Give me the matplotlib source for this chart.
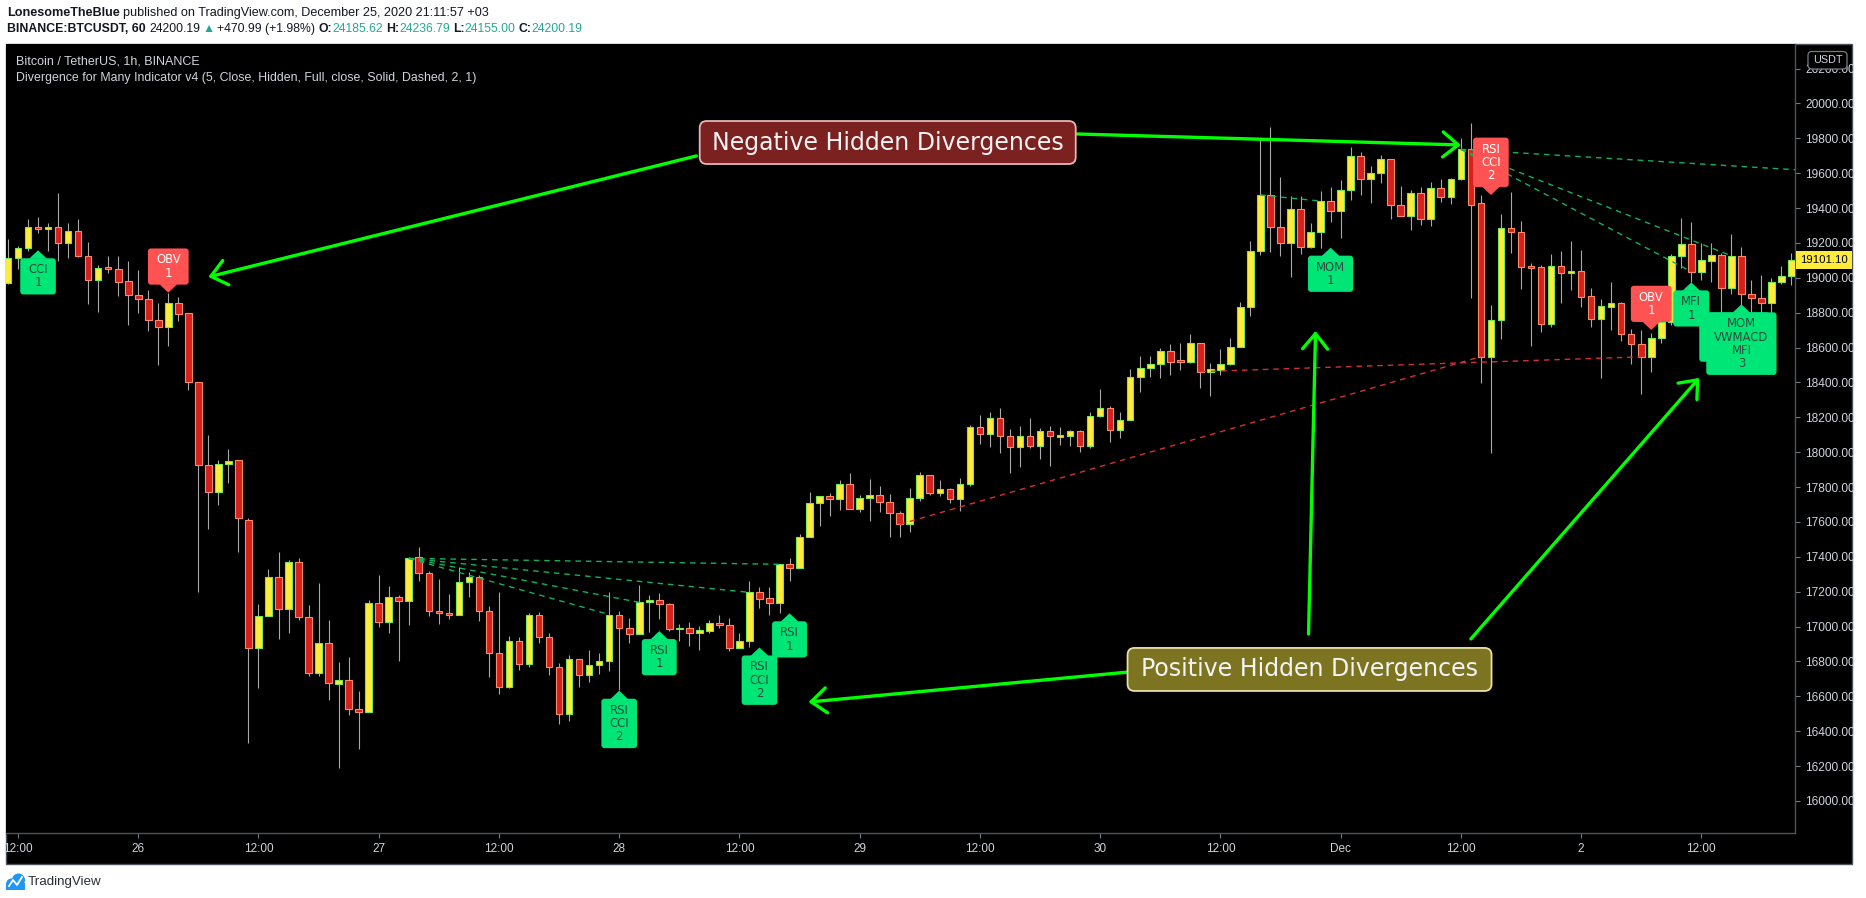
import numpy as np
import pandas as pd
import matplotlib
matplotlib.use("Agg")
import matplotlib.pyplot as plt
from matplotlib import font_manager as fm
from matplotlib.patches import FancyBboxPatch, Polygon, Rectangle, Circle
from matplotlib.transforms import IdentityTransform

W, H, DPI = 1866, 898, 100

# ---------------- data (BINANCE:BTCUSDT, 1h) ----------------
first_bar = "2020-11-25 11:00"
opens = [18971, 19112, 19169, 19289, 19278, 19289, 19199, 19266, 19124, 18985,
         19062, 19053, 18981, 18899, 18876, 18757, 18716, 18858, 18797, 18400,
         17924, 17770, 17933, 17954, 17612, 16875, 17060, 17284, 17101, 17371,
         17053, 16731, 16903, 16668, 16691, 16530, 16511, 17133, 17028, 17167,
         17148, 17397, 17305, 17090, 17075, 17069, 17257, 17282, 17090, 16850,
         16655, 16920, 16787, 17064, 16942, 16766, 16496, 16812, 16725, 16778,
         16800, 17064, 16993, 16955, 17139, 17150, 17127, 16984, 16989, 16961,
         16976, 17018, 17010, 16875, 16915, 17196, 17162, 17133, 17357, 17334,
         17515, 17707, 17747, 17729, 17816, 17672, 17740, 17757, 17715, 17650,
         17586, 17740, 17868, 17764, 17787, 17729, 17816, 18142, 18102, 18195,
         18091, 18028, 18095, 18038, 18119, 18089, 18091, 18119, 18038, 18206,
         18252, 18129, 18182, 18429, 18481, 18504, 18578, 18523, 18519, 18624,
         18462, 18471, 18504, 18602, 18834, 19152, 19475, 19290, 19198, 19393,
         19175, 19260, 19440, 19381, 19501, 19698, 19564, 19604, 19680, 19419,
         19352, 19484, 19337, 19514, 19466, 19564, 19737, 19428, 18548, 18759,
         19284, 19260, 19064, 19060, 18738, 19070, 19026, 19037, 18895, 18763,
         18835, 18854, 18676, 18619, 18547, 18653, 18749, 19126, 19192, 19035,
         19099, 19129, 18940, 19126, 18910, 18886, 18854, 18974, 19012]
highs = [19221, 19181, 19339, 19346, 19317, 19486, 19312, 19335, 19203, 19073,
         19126, 19126, 19096, 19044, 18931, 18858, 18915, 18890, 18801, 18400,
         18098, 17956, 18020, 17954, 17623, 17130, 17328, 17425, 17384, 17396,
         17123, 17247, 17037, 16795, 16823, 16630, 17152, 17296, 17232, 17181,
         17400, 17457, 17319, 17272, 17186, 17343, 17311, 17295, 17118, 17196,
         16946, 16939, 17075, 17081, 16961, 16793, 16835, 16812, 16865, 16848,
         17200, 17091, 17047, 17236, 17181, 17190, 17133, 17014, 17024, 17003,
         17037, 17066, 17047, 16961, 17261, 17228, 17228, 17359, 17391, 17529,
         17770, 17747, 17764, 17841, 17879, 17754, 17846, 17806, 17759, 17661,
         17792, 17884, 17868, 17841, 17792, 17852, 18154, 18214, 18231, 18253,
         18133, 18150, 18196, 18137, 18150, 18144, 18127, 18127, 18231, 18360,
         18265, 18229, 18475, 18551, 18551, 18597, 18621, 18624, 18678, 18624,
         18509, 18593, 18653, 18861, 19211, 19789, 19866, 19576, 19470, 19470,
         19313, 19498, 19519, 19561, 19749, 19719, 19640, 19705, 19680, 19527,
         19504, 19519, 19551, 19565, 19574, 19800, 19886, 19476, 18844, 19366,
         19495, 19325, 19083, 19073, 19135, 19154, 19211, 19160, 18944, 18879,
         18977, 18863, 18708, 18701, 18686, 18753, 19134, 19342, 19323, 19198,
         19198, 19141, 19251, 19175, 18988, 19016, 18997, 19068, 19145]
lows = [18967, 19051, 19153, 19255, 19153, 19096, 19112, 19117, 18852, 18806,
        19029, 18893, 18727, 18801, 18693, 18500, 18609, 18750, 18355, 17196,
        17561, 17695, 17826, 17430, 16331, 16648, 17060, 16927, 16961, 17040,
        16718, 16716, 16579, 16186, 16494, 16297, 16511, 16999, 16965, 16804,
        17009, 17261, 17060, 17014, 17043, 17069, 17171, 17033, 16712, 16613,
        16647, 16751, 16768, 16908, 16721, 16439, 16460, 16655, 16683, 16727,
        16746, 16636, 16908, 16955, 16971, 17045, 16974, 16919, 16890, 16865,
        16961, 16989, 16861, 16875, 16880, 17105, 17069, 17075, 17263, 17334,
        17515, 17578, 17636, 17669, 17672, 17659, 17605, 17657, 17515, 17515,
        17544, 17722, 17754, 17748, 17707, 17665, 17804, 18047, 18032, 17997,
        17883, 17917, 18026, 17962, 17923, 18041, 18038, 18003, 18026, 18200,
        18060, 18083, 18182, 18347, 18433, 18428, 18443, 18471, 18509, 18370,
        18324, 18443, 18500, 18602, 18781, 19132, 19150, 19128, 19007, 19137,
        19169, 19169, 19322, 19230, 19448, 19474, 19429, 19546, 19340, 19352,
        19275, 19304, 19300, 19437, 19424, 19561, 18882, 18399, 17997, 18649,
        19145, 18936, 18611, 18691, 18719, 18857, 18930, 18834, 18719, 18428,
        18700, 18640, 18504, 18331, 18462, 18628, 18732, 19058, 18978, 18988,
        18978, 18800, 18910, 18797, 18797, 18797, 18797, 18963, 18960]
closes = [19112, 19171, 19289, 19278, 19289, 19199, 19266, 19124, 18985, 19058,
          19053, 18978, 18899, 18876, 18757, 18716, 18858, 18795, 18400, 17924,
          17770, 17933, 17951, 17620, 16875, 17060, 17284, 17101, 17371, 17053,
          16731, 16903, 16674, 16691, 16530, 16511, 17133, 17028, 17167, 17148,
          17391, 17305, 17090, 17075, 17069, 17257, 17282, 17090, 16850, 16655,
          16920, 16787, 17064, 16942, 16766, 16496, 16812, 16725, 16778, 16800,
          17069, 16993, 16955, 17139, 17150, 17127, 16984, 16989, 16961, 16978,
          17018, 17010, 16875, 16915, 17196, 17160, 17133, 17357, 17334, 17515,
          17707, 17747, 17729, 17816, 17672, 17740, 17757, 17715, 17650, 17586,
          17740, 17868, 17764, 17787, 17729, 17816, 18142, 18102, 18195, 18091,
          18028, 18095, 18038, 18119, 18091, 18093, 18119, 18038, 18206, 18252,
          18129, 18182, 18429, 18481, 18504, 18578, 18519, 18517, 18624, 18462,
          18475, 18504, 18602, 18834, 19152, 19475, 19290, 19198, 19393, 19175,
          19260, 19440, 19381, 19501, 19698, 19564, 19604, 19680, 19419, 19352,
          19484, 19337, 19514, 19466, 19564, 19737, 19419, 18548, 18759, 19284,
          19260, 19060, 19058, 18738, 19070, 19026, 19037, 18892, 18763, 18838,
          18854, 18676, 18619, 18547, 18653, 18749, 19126, 19192, 19035, 19102,
          19129, 18940, 19126, 18910, 18886, 18854, 18974, 19012, 19101.10]

xtick_times = ["2020-11-25 12:00", "2020-11-26 00:00", "2020-11-26 12:00", "2020-11-27 00:00",
               "2020-11-27 12:00", "2020-11-28 00:00", "2020-11-28 12:00", "2020-11-29 00:00",
               "2020-11-29 12:00", "2020-11-30 00:00", "2020-11-30 12:00", "2020-12-01 00:00",
               "2020-12-01 12:00", "2020-12-02 00:00", "2020-12-02 12:00"]
xtick_labels = ["12:00", "26", "12:00", "27", "12:00", "28", "12:00", "29",
                "12:00", "30", "12:00", "Dec", "12:00", "2", "12:00"]
price_ticks = [16000, 16200, 16400, 16600, 16800, 17000, 17200, 17400, 17600, 17800, 18000,
               18200, 18400, 18600, 18800, 19000, 19200, 19400, 19600, 19800, 20000, 20200]
last_price = 19101.10

# divergence labels: (bar hour, price at pointer, text, kind)
div_labels = [(2, 19158, "CCI\n1", "bull"),
              (15, 18915, "OBV\n1", "bear"),
              (60, 16632, "RSI\nCCI\n2", "bull"),
              (64, 16974, "RSI\n1", "bull"),
              (74, 16880, "RSI\nCCI\n2", "bull"),
              (77, 17076, "RSI\n1", "bull"),
              (131, 19173, "MOM\n1", "bull"),
              (147, 19475, "RSI\nCCI\n2", "bear"),
              (163, 18701, "OBV\n1", "bear"),
              (167, 18974, "MFI\n1", "bull"),
              (172, 18848, "MOM\nVWMACD\nMFI\n3", "bull")]
# a second label hidden behind the last one (only its edge shows): bar hour, lines
hidden_label = (171.3, 3)
# divergence lines between closes of two bars (bar hours)
green_div = [(39, 76), (39, 73), (39, 62), (39, 59), (124, 130), (144, 167), (144, 171)]
red_div = [(88, 146), (118, 162)]
green_open_div = [(144, 177.35, 19620)]

# hand-drawn callouts
callouts = [("Negative Hidden Divergences", 86.8, 19776, 376, 43, "#7b2120", "#e6b5b3"),
            ("Positive Hidden Divergences", 128.9, 16754, 364, 43, "#7d7421", "#e9e0a6")]
arrows = [((67.7, 19699), (19.0, 19005)),
          ((105.7, 19825), (144.0, 19762)),
          ((110.8, 16739), (78.9, 16567)),
          ((128.8, 16957), (129.5, 18695)),
          ((145.0, 16929), (167.8, 18426))]

# ---------------- fonts ----------------
fonts = {f.name for f in fm.fontManager.ttflist}
SANS = "Liberation Sans" if "Liberation Sans" in fonts else "DejaVu Sans"
NARROW = "Liberation Sans Narrow" if "Liberation Sans Narrow" in fonts else None
plt.rcParams["font.family"] = [SANS, "DejaVu Sans"]
if NARROW:
    LBL_FONT = dict(family=[NARROW, "DejaVu Sans"], size=9.8)
else:
    LBL_FONT = dict(family=["DejaVu Sans"], size=8.4)

times = pd.date_range(first_bar, periods=len(opens), freq="h")
origin = pd.Timestamp("2020-11-25 12:00")
hours = ((times - origin) / pd.Timedelta(hours=1)).to_numpy()
tick_hours = [(pd.Timestamp(t) - origin) / pd.Timedelta(hours=1) for t in xtick_times]
close_at = dict(zip(hours.astype(int), closes))

o = np.array(opens, float); hi = np.array(highs, float)
lo = np.array(lows, float); c = np.array(closes, float)

# ---------------- figure ----------------
fig = plt.figure(figsize=(W / DPI, H / DPI), dpi=DPI)
fig.patch.set_facecolor("white")
ID = IdentityTransform()

panel = Rectangle((6, H - 864), 1852 - 6, 864 - 44, transform=ID,
                  fc="black", ec="#4c525e", lw=1.0, zorder=-2)
fig.add_artist(panel)

ax = fig.add_axes([6 / W, 1 - 833 / H, (1795 - 6) / W, (833 - 44) / H])
ax.set_facecolor("black")
ax.set_xlim(-1.198, 177.35)
ax.set_ylim(15816, 20341)
for s in ["top", "left"]:
    ax.spines[s].set_visible(False)
for s in ["right", "bottom"]:
    ax.spines[s].set_color("#4c525e")
    ax.spines[s].set_linewidth(1.0)

# candles
up = c >= o
body_lo = np.minimum(o, c)
body_h = np.maximum(np.abs(c - o), 9)
ax.vlines(hours, lo, hi, color="#a8a8a8", lw=0.8, zorder=2)
ax.bar(hours[up], body_h[up], bottom=body_lo[up], width=0.66, color="#ffeb3b",
       edgecolor="#7be84f", linewidth=0.8, zorder=3)
ax.bar(hours[~up], body_h[~up], bottom=body_lo[~up], width=0.66, color="#d6201c",
       edgecolor="#ff8a65", linewidth=0.8, zorder=3)

# divergence lines
for a, b in green_div:
    ax.plot([a, b], [close_at[a], close_at[b]], color="#10b35a", lw=1.0,
            dashes=(4, 3.5), zorder=4)
for a, b, pend in green_open_div:
    ax.plot([a, b], [close_at[a], pend], color="#10b35a", lw=1.0,
            dashes=(4, 3.5), zorder=4)
for a, b in red_div:
    ax.plot([a, b], [close_at[a], close_at[b]], color="#d03232", lw=1.0,
            dashes=(4, 3.5), zorder=4)

renderer = fig.canvas.get_renderer()
GAP, TRI_W, PADH, PADV, LSP = 8, 9, 8, 5, 1.02


def div_label(i, h, price, text, kind):
    x, y = ax.transData.transform((h, price))
    fc = "#00e676" if kind == "bull" else "#ff5252"
    tc = "#2e4a3c" if kind == "bull" else "#ffffff"
    z = 8 + i * 0.1
    if kind == "bull":
        t = ax.text(x, y - GAP - PADV, text, transform=ID, ha="center", va="top",
                    color=tc, linespacing=LSP, zorder=z + 0.05, **LBL_FONT)
        tri = [(x, y), (x - TRI_W, y - GAP - 0.5), (x + TRI_W, y - GAP - 0.5)]
    else:
        t = ax.text(x, y + GAP + PADV, text, transform=ID, ha="center", va="bottom",
                    color=tc, linespacing=LSP, zorder=z + 0.05, **LBL_FONT)
        tri = [(x, y), (x - TRI_W, y + GAP + 0.5), (x + TRI_W, y + GAP + 0.5)]
    bb = t.get_window_extent(renderer)
    box = FancyBboxPatch((bb.x0 - PADH, bb.y0 - PADV), bb.width + 2 * PADH,
                         bb.height + 2 * PADV, boxstyle="round,pad=0,rounding_size=3",
                         transform=ID, fc=fc, ec="none", zorder=z)
    ax.add_patch(box)
    ax.add_patch(Polygon(tri, closed=True, transform=ID, fc=fc, ec="none", zorder=z))
    return bb, text.count("\n") + 1


front_bb, front_lines = None, 1
for i, (h, p, txt, kind) in enumerate(div_labels):
    bb, nl = div_label(i, h, p, txt, kind)
    front_bb, front_lines = bb, nl

# hidden label box behind the last (4-line) label: same width, fewer lines
hx = ax.transData.transform((hidden_label[0], div_labels[-1][1]))[0]
fx = ax.transData.transform((div_labels[-1][0], div_labels[-1][1]))[0]
line_h = front_bb.height / front_lines
hb_h = line_h * hidden_label[1] + 2 * PADV
hb_top = front_bb.y1 + PADV
ax.add_patch(FancyBboxPatch((front_bb.x0 - PADH - (fx - hx), hb_top - hb_h),
                            front_bb.width + 2 * PADH, hb_h,
                            boxstyle="round,pad=0,rounding_size=3", transform=ID,
                            fc="#00e676", ec="none", zorder=7.9))

# arrows
for (tail, tip) in arrows:
    ax.annotate("", xy=tip, xytext=tail,
                arrowprops=dict(arrowstyle="->,head_length=0.55,head_width=0.45",
                                color="#00ff00", lw=2.4, shrinkA=0, shrinkB=0,
                                mutation_scale=20),
                zorder=11)

# callout boxes
for text, h, p, bw, bh, fc, ec in callouts:
    x, y = ax.transData.transform((h, p))
    ax.add_patch(FancyBboxPatch((x - bw / 2, y - bh / 2), bw, bh,
                                boxstyle="round,pad=0,rounding_size=7", transform=ID,
                                fc=fc, ec=ec, lw=1.3, zorder=12))
    ax.text(x, y, text, transform=ID, ha="center", va="center", color="#f4f4f4",
            fontsize=17, family="DejaVu Sans", zorder=13)

# axes ticks
ax.yaxis.tick_right()
ax.set_yticks(price_ticks)
ax.set_yticklabels([f"{v:.2f}" for v in price_ticks])
ax.tick_params(axis="y", colors="#787b86", labelcolor="#d1d4dc", length=3.6,
               width=0.8, pad=3.6, labelsize=8.6)
ax.set_xticks(tick_hours)
ax.set_xticklabels(xtick_labels)
ax.tick_params(axis="x", colors="#787b86", labelcolor="#d1d4dc", length=3.6,
               width=0.8, pad=3.5, labelsize=8.5)

# USDT box
fig.add_artist(FancyBboxPatch((1808, H - 69), 39, 17.5, boxstyle="round,pad=0,rounding_size=4",
                              transform=ID, fc="black", ec="#787b86", lw=0.9, zorder=5))
fig.text(1827.5, H - 60.3, "USDT", transform=ID, ha="center", va="center",
         color="#d1d4dc", fontsize=7.8, zorder=6)

# last price label
yp = ax.transData.transform((0, last_price))[1]
fig.add_artist(Rectangle((1796, yp - 9), 56, 18, transform=ID, fc="#ffeb3b",
                         ec="none", zorder=5))
fig.text(1824, yp, f"{last_price:.2f}", transform=ID, ha="center", va="center",
         color="black", fontsize=8.2, zorder=6)

# panel legend texts
fig.text(15.5, H - 61, "Bitcoin / TetherUS, 1h, BINANCE", transform=ID, ha="left",
         va="center", color="#d1d4dc", fontsize=9.0, zorder=6)
fig.text(15.5, H - 78.5,
         "Divergence for Many Indicator v4 (5, Close, Hidden, Full, close, Solid, Dashed, 2, 1)",
         transform=ID, ha="left", va="center", color="#d1d4dc", fontsize=8.9, zorder=6)


def seq_text(x, y, pieces, size):
    for s, weight, color, gap in pieces:
        t = fig.text(x, H - y, s, transform=ID, ha="left", va="center", fontsize=size,
                     fontweight=weight, color=color,
                     family=[SANS, "DejaVu Sans"], zorder=6)
        bb = t.get_window_extent(renderer)
        x += bb.width + gap


DARK = "#131722"
TEAL = "#26a69a"
seq_text(7, 13.3, [("LonesomeTheBlue", "bold", DARK, 3),
                   ("published on TradingView.com, December 25, 2020 21:11:57 +03", "normal", DARK, 0)],
         9.1)
seq_text(7, 29.3, [("BINANCE:BTCUSDT, 60", "bold", DARK, 4),
                   ("24200.19", "normal", DARK, 2),
                   ("\u25b2", "normal", TEAL, 2),
                   ("+470.99 (+1.98%)", "normal", DARK, 4),
                   ("O:", "bold", DARK, 0), ("24185.62", "normal", TEAL, 3),
                   ("H:", "bold", DARK, 0), ("24236.79", "normal", TEAL, 3),
                   ("L:", "bold", DARK, 0), ("24155.00", "normal", TEAL, 3),
                   ("C:", "bold", DARK, 0), ("24200.19", "normal", TEAL, 0)],
         8.8)

# TradingView logo
LOGO = "#2196f3"
for (cx, cy, r) in [(11.5, 884, 5.5), (18.5, 880, 6.5)]:
    fig.add_artist(Circle((cx, H - cy), r, transform=ID, fc=LOGO, ec="none", zorder=6))
fig.add_artist(Rectangle((6, H - 890), 19, 7, transform=ID, fc=LOGO, ec="none", zorder=6))
fig.add_artist(plt.Line2D([9, 13, 17, 22], [H - 886, H - 880, H - 885, H - 877],
                          transform=ID, color="white", lw=1.3, zorder=7))
fig.text(28, H - 881.5, "TradingView", transform=ID, ha="left", va="center",
         color="#2a2e39", fontsize=9.6, zorder=6)

fig.savefig("out.png", dpi=DPI, facecolor="white")
